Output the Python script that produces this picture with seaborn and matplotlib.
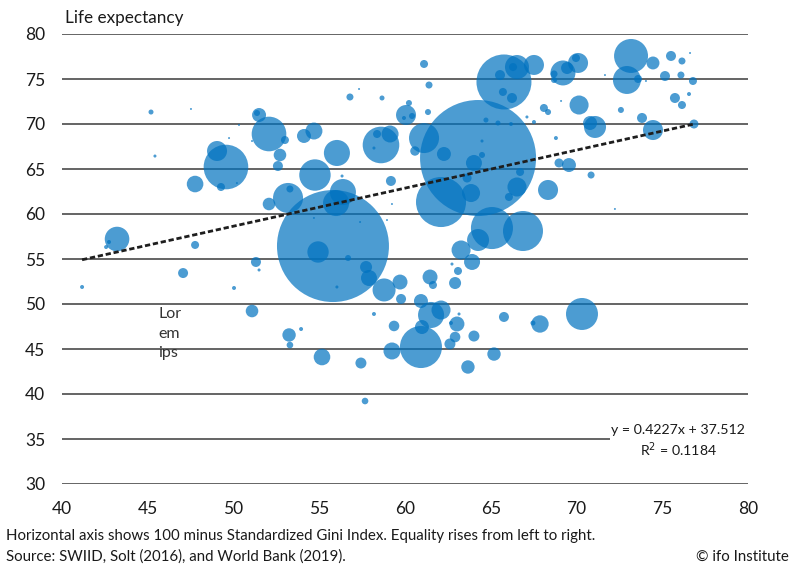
import matplotlib
matplotlib.use("Agg")
import matplotlib.pyplot as plt
import seaborn as sns
import pandas as pd

# ---- data ----
equality = [55.80, 64.26, 65.77, 62.10, 65.07, 66.88, 64.26, 63.27, 63.91, 63.09,
            62.74, 62.92, 61.46, 61.63, 59.71, 58.78, 59.77, 60.93, 61.52, 62.10,
            59.36, 60.99, 60.93, 59.24, 63.03, 62.68, 63.15, 62.92, 62.62, 64.02,
            65.19, 63.67, 65.77, 67.87, 67.46, 70.32, 72.24, 68.34, 54.93, 56.68,
            57.73, 57.90, 56.03, 53.24, 53.29, 53.94, 58.19, 55.16, 57.43, 57.67,
            59.18, 58.95, 59.24, 57.38, 54.69, 49.56, 49.04, 49.27, 47.76, 52.07,
            51.49, 51.37, 53.00, 52.71, 52.59, 54.11, 54.69, 56.03, 54.75, 53.18,
            53.29, 52.07, 56.38, 55.98, 56.33, 58.60, 58.37, 59.13, 58.19, 61.11,
            61.40, 56.79, 58.66, 57.32, 60.06, 59.94, 60.41, 60.23, 61.34, 61.11,
            60.58, 62.27, 64.72, 65.42, 66.18, 67.11, 67.52, 64.49, 64.49, 64.02,
            66.71, 66.53, 66.06, 63.62, 63.85, 65.54, 65.71, 66.24, 66.53, 66.30,
            67.52, 68.98, 69.56, 70.85, 70.15, 68.10, 68.34, 68.80, 69.10, 71.08,
            70.79, 69.21, 70.09, 69.97, 69.45, 68.69, 68.69, 73.18, 72.94, 73.59,
            74.46, 75.51, 76.15, 76.62, 75.16, 76.09, 76.79, 71.66, 74.05, 75.74,
            76.15, 76.56, 72.59, 73.82, 74.46, 76.85, 45.19, 47.52, 45.42, 50.32,
            49.74, 51.08, 50.20, 43.21, 42.74, 42.57, 41.17, 47.76, 47.06, 50.03,
            51.31, 51.49, 51.08]
life_exp = [56.44, 66.22, 74.67, 61.33, 58.44, 58.11, 57.11, 56.00, 54.67, 53.67,
            54.44, 52.33, 53.00, 52.11, 52.44, 51.56, 50.56, 50.33, 48.78, 49.33,
            47.56, 47.44, 45.22, 44.78, 47.78, 47.89, 48.89, 46.33, 45.56, 46.44,
            44.44, 43.00, 48.56, 47.78, 47.89, 48.89, 60.56, 62.67, 55.78, 55.11,
            54.11, 52.89, 51.89, 46.56, 45.44, 47.22, 48.89, 44.11, 43.44, 39.22,
            63.67, 59.33, 61.11, 59.11, 59.56, 65.22, 67.00, 63.00, 63.33, 68.89,
            71.00, 71.22, 68.22, 66.56, 65.33, 68.67, 69.22, 66.78, 64.33, 61.78,
            62.78, 61.11, 62.44, 61.22, 64.22, 67.67, 68.89, 68.89, 67.33, 76.67,
            74.33, 73.00, 72.89, 73.89, 71.00, 70.67, 70.89, 72.33, 71.33, 68.44,
            67.00, 66.67, 70.44, 70.11, 70.00, 70.78, 70.22, 68.11, 66.56, 65.67,
            64.67, 63.00, 61.89, 64.00, 62.33, 75.44, 73.56, 72.89, 76.33, 76.33,
            76.56, 65.67, 65.44, 64.33, 72.11, 71.78, 71.33, 68.44, 72.56, 69.67,
            70.11, 75.67, 76.78, 77.33, 76.22, 75.56, 74.89, 77.56, 74.89, 75.00,
            76.78, 77.56, 77.00, 77.89, 75.33, 75.44, 74.78, 75.44, 74.78, 72.89,
            72.11, 73.33, 71.56, 70.67, 69.33, 70.00, 71.33, 71.67, 66.44, 69.89,
            68.44, 68.11, 63.44, 57.22, 56.89, 56.33, 51.89, 56.56, 53.44, 51.78,
            54.67, 53.78, 49.22]
population = [1348, 1447, 325, 269, 190, 172, 52, 39, 27.5, 6.9,
              1, 15.5, 24, 6.9, 24, 57, 10.75, 21, 73, 39,
              12, 21, 190, 31, 24, 1.7, 1, 12, 13, 13,
              19.3, 19.3, 10.75, 32.5, 2.7, 110, 0.43, 43, 49, 3.9,
              15.5, 27.5, 1, 19.3, 4.7, 1.7, 1.7, 29.6, 13, 4.7,
              10.75, 0.43, 0.43, 0.43, 0.43, 214, 43, 6.9, 29.6, 129,
              21, 3.9, 6.9, 17, 10.75, 21, 31, 73, 106, 97,
              5.3, 17, 73, 73, 1, 144, 6.9, 31, 1, 6.9,
              5.3, 5.3, 2.7, 0.43, 43, 1.7, 3.9, 3.9, 3.9, 97,
              9.5, 21, 2.7, 2.7, 1.7, 1, 1.7, 1, 3.9, 27.5,
              6.9, 39, 6.9, 8.7, 35, 10.75, 6.9, 10.75, 62, 6.9,
              43, 8.7, 21, 5.3, 39, 6.9, 3.9, 1.7, 0.43, 52,
              21, 67, 43, 6.9, 15.5, 5.3, 3.9, 124, 84, 6.9,
              18, 10.75, 5.3, 0.43, 10.75, 5.3, 6.9, 0.43, 0.43, 10.75,
              6.9, 1.7, 3.9, 10.75, 43, 8.7, 2.7, 0.43, 1, 0.43,
              0.43, 0.43, 0.43, 65, 1.7, 1.7, 1.7, 6.9, 10.75, 1.7,
              10.75, 1, 17]

slope = 0.4227
intercept = 37.512
r_squared = 0.1184
y_ticks = [30, 35, 40, 45, 50, 55, 60, 65, 70, 75, 80]
x_ticks = [40, 45, 50, 55, 60, 65, 70, 75, 80]

df = pd.DataFrame({"equality": equality, "life": life_exp, "pop": population})

# ---- figure ----
sns.set_theme(style="white")
plt.rcParams["font.family"] = ["Lato", "DejaVu Sans"]

fig = plt.figure(figsize=(7.91, 5.69), dpi=100)
ax = fig.add_axes([62 / 791, 1 - 484 / 569, 686 / 791, 450 / 569])
ax.set_xlim(40, 80)
ax.set_ylim(30, 80)

grid_color = "#3a3a3a"
for yv in y_ticks:
    if yv == 35:
        ax.hlines(yv, 40, 71.95, color=grid_color, lw=1.1, zorder=1)
    else:
        ax.axhline(yv, color=grid_color, lw=1.1, zorder=1)

sns.scatterplot(data=df, x="equality", y="life", size="pop",
                sizes=(0, 1500 * 4.822), size_norm=(0, 1500),
                color="#0072C0", alpha=0.7, linewidth=0, legend=False,
                ax=ax, zorder=2, clip_on=False)

xs = [min(equality), max(equality)]
ax.plot(xs, [slope * v + intercept for v in xs], color="#1e1e1e", lw=2.0,
        dashes=(1.9, 1.0), zorder=3)

for s in ax.spines.values():
    s.set_visible(False)
ax.set_xticks(x_ticks)
ax.set_yticks(y_ticks)
ax.tick_params(axis="both", length=0, labelsize=12.5, colors="#1a1a1a")
ax.tick_params(axis="y", pad=12)
ax.tick_params(axis="x", pad=12)
ax.set_xlabel("")
ax.set_ylabel("")

fig.text(65 / 791, 1 - 18 / 569, "Life expectancy", ha="left", va="center",
         fontsize=12.3, color="#1a1a1a")
fig.text(158 / 791, 1 - 307 / 569, "Lor\nem\nips", ha="left", va="top",
         fontsize=11.5, color="#333333", linespacing=1.5)
fig.text(678 / 791, 1 - 430 / 569, f"y = {slope}x + {intercept}", ha="center",
         va="center", fontsize=10.2, color="#1a1a1a")
fig.text(678 / 791, 1 - 450 / 569, f"R$^2$ = {r_squared}", ha="center",
         va="center", fontsize=10.2, color="#1a1a1a")

fig.text(6 / 791, 1 - 536 / 569,
         "Horizontal axis shows 100 minus Standardized Gini Index. Equality rises from left to right.",
         ha="left", va="center", fontsize=10.8, color="#1a1a1a")
fig.text(6 / 791, 1 - 557 / 569,
         "Source: SWIID, Solt (2016), and World Bank (2019).",
         ha="left", va="center", fontsize=10.8, color="#1a1a1a")
fig.text(789 / 791, 1 - 557 / 569, "© ifo Institute", ha="right", va="center",
         fontsize=10.8, color="#1a1a1a")

fig.savefig("out.png", dpi=100)
